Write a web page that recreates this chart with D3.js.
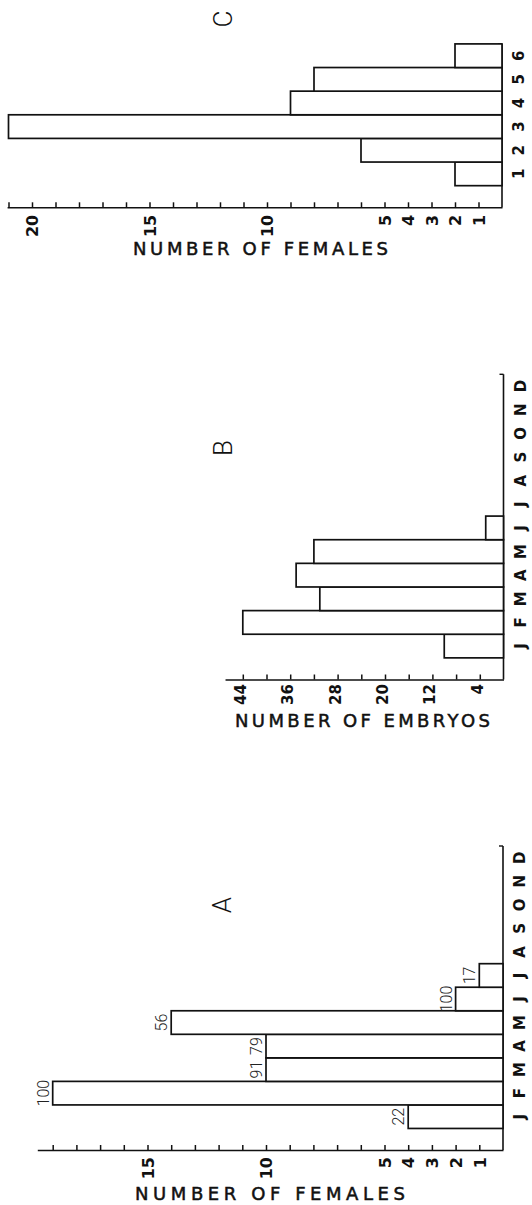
<!DOCTYPE html>
<html>
<head>
<meta charset="utf-8">
<script src="https://cdn.jsdelivr.net/npm/d3@7"></script>
<style>
  body { margin: 0; background: #fff; }
  svg { display: block; }
  .tick line { stroke: #111; stroke-width: 1.5; }
  .domain { stroke: #111; stroke-width: 1.5; }
</style>
</head>
<body>
<div id="chart"></div>
<script>
// data
var months = ["J", "F", "M", "A", "M", "J", "J", "A", "S", "O", "N", "D"];
var femalesA = [4, 19, 10, 10, 14, 2, 1, 0, 0, 0, 0, 0];
var percentA = [22, 100, 91, 79, 56, 100, 17, null, null, null, null, null];
var embryosB = [10, 44, 31, 35, 32, 3, 0, 0, 0, 0, 0, 0];
var litterSize = ["1", "2", "3", "4", "5", "6"];
var femalesC = [2, 6, 21, 9, 8, 2];
var tickLabelsA = [1, 2, 3, 4, 5, 10, 15];
var tickLabelsB = [4, 12, 20, 28, 36, 44];
var tickLabelsC = [1, 2, 3, 4, 5, 10, 15, 20];

var W = 532, H = 1205;

var svg = d3.select("#chart")
    .append("svg")
    .attr("width", W)
    .attr("height", H);

svg.append("rect").attr("width", W).attr("height", H).attr("fill", "#fff");

// layout of the three panels (figure is turned on its side)
var panels = [
    { letter: "C", cats: litterSize, vals: femalesC, pct: null,
      base: 502, y0: 207.3, top: 43.9, unit: 23.5, axisEnd: 21.06,
      ticks: d3.range(1, 22), labels: tickLabelsC, labelFont: 16, labelTop: 7.5, labelShift: 0,
      title: "NUMBER OF FEMALES", titleX: [133, 388], titleY: 248, letterPos: [223, 19] },
    { letter: "B", cats: months, vals: embryosB, pct: null,
      base: 503.5, y0: 679.5, top: 374.3, unit: 5.925, axisEnd: 47,
      ticks: d3.range(4, 45, 4), labels: tickLabelsB, labelFont: 15, labelTop: 4.5, labelShift: -3,
      title: "NUMBER OF EMBRYOS", titleX: [235, 490], titleY: 720, letterPos: [223, 448] },
    { letter: "A", cats: months, vals: femalesA, pct: percentA,
      base: 503, y0: 1150, top: 846, unit: 23.7, axisEnd: 19.65,
      ticks: d3.range(1, 20), labels: tickLabelsA, labelFont: 16, labelTop: 7, labelShift: 0,
      title: "NUMBER OF FEMALES", titleX: [135, 405], titleY: 1193, letterPos: [222, 905] }
];

panels.forEach(drawPanel);

function drawPanel(p) {
    var g = svg.append("g");

    var x = d3.scaleLinear()
        .domain([0, p.axisEnd])
        .range([p.base, p.base - p.axisEnd * p.unit]);

    // slot 0 is the empty space next to the value axis
    var y = d3.scaleBand()
        .domain(d3.range(p.cats.length + 1))
        .range([p.y0 + 2, p.top])
        .padding(0);

    // value axis, ticks pointing up toward the bars
    var xAxis = g.append("g")
        .attr("transform", "translate(0," + p.y0 + ")")
        .call(d3.axisBottom(x)
            .tickValues(p.ticks)
            .tickSizeInner(-5)
            .tickSizeOuter(0)
            .tickFormat(function (d) { return p.labels.indexOf(d) >= 0 ? d : ""; }));

    xAxis.selectAll("text")
        .attr("x", 0).attr("y", 0).attr("dy", "0.36em")
        .attr("transform", function () { return "translate(" + p.labelShift + "," + p.labelTop + ") rotate(-90)"; })
        .attr("text-anchor", "end")
        .attr("fill", "#111")
        .style("font-family", "'DejaVu Sans', sans-serif")
        .style("font-weight", "bold")
        .style("font-size", p.labelFont + "px");

    // baseline
    g.append("line")
        .attr("x1", p.base).attr("x2", p.base)
        .attr("y1", p.y0).attr("y2", p.top)
        .attr("stroke", "#111").attr("stroke-width", 1.6);
    g.append("line")
        .attr("x1", p.base - 4).attr("x2", p.base)
        .attr("y1", p.top).attr("y2", p.top)
        .attr("stroke", "#111").attr("stroke-width", 1.4);

    var rows = p.vals.map(function (v, i) {
        return { i: i + 1, v: v, cat: p.cats[i], pct: p.pct ? p.pct[i] : null };
    });

    g.selectAll("rect.bar")
        .data(rows.filter(function (d) { return d.v > 0; }))
        .enter()
        .append("rect")
        .attr("class", "bar")
        .attr("x", function (d) { return x(d.v); })
        .attr("y", function (d) { return y(d.i); })
        .attr("width", function (d) { return p.base - x(d.v); })
        .attr("height", y.bandwidth())
        .attr("fill", "#fff")
        .attr("stroke", "#111")
        .attr("stroke-width", 1.7);

    // category letters beside the baseline
    g.selectAll("text.cat")
        .data(rows)
        .enter()
        .append("text")
        .attr("class", "cat")
        .attr("transform", function (d) {
            return "translate(" + (p.base + 17) + "," + (y(d.i) + y.bandwidth() / 2) + ") rotate(-90)";
        })
        .attr("text-anchor", "middle")
        .attr("dy", "0.36em")
        .attr("fill", "#111")
        .style("font-family", "'DejaVu Sans', sans-serif")
        .style("font-weight", "bold")
        .style("font-size", "15px")
        .text(function (d) { return d.cat; });

    // percentages at bar ends
    if (p.pct) {
        g.selectAll("text.pct")
            .data(rows.filter(function (d) { return d.pct != null; }))
            .enter()
            .append("text")
            .attr("class", "pct")
            .attr("transform", function (d) {
                return "translate(" + (x(d.v) - 4) + "," + (y(d.i) + y.bandwidth() / 2) + ") rotate(-90)";
            })
            .attr("text-anchor", "middle")
            .attr("fill", "#222")
            .style("font-family", "Roboto, 'Liberation Sans', sans-serif")
            .style("font-weight", "300")
            .style("font-size", "16px")
            .text(function (d) { return d.pct; });
    }

    // axis title
    g.append("text")
        .attr("x", (p.titleX[0] + p.titleX[1]) / 2)
        .attr("y", p.titleY)
        .attr("text-anchor", "middle")
        .attr("dominant-baseline", "central")
        .attr("textLength", p.titleX[1] - p.titleX[0])
        .attr("lengthAdjust", "spacing")
        .attr("fill", "#111")
        .attr("stroke", "#111")
        .attr("stroke-width", 0.5)
        .style("font-family", "'DejaVu Sans', sans-serif")
        .style("font-size", "18px")
        .text(p.title);

    // panel letter
    g.append("text")
        .attr("transform", "translate(" + p.letterPos[0] + "," + p.letterPos[1] + ") rotate(-90)")
        .attr("text-anchor", "middle")
        .attr("dy", "0.36em")
        .attr("fill", "#111")
        .style("font-family", "Roboto, 'Liberation Sans', sans-serif")
        .style("font-weight", "300")
        .style("font-size", "26px")
        .text(p.letter);
}
</script>
</body>
</html>
